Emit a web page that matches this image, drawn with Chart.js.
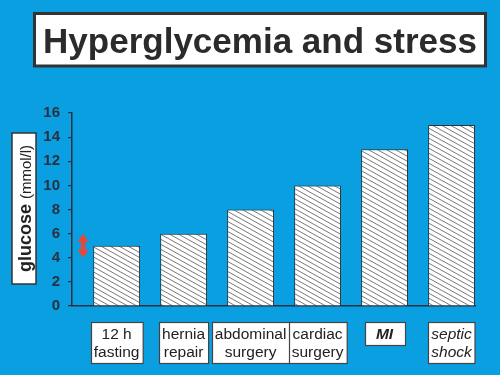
<!DOCTYPE html>
<html>
<head>
<meta charset="utf-8">
<script src="https://cdn.jsdelivr.net/npm/chart.js@4"></script>
<style>
  html, body { margin: 0; padding: 0; background: #0a9fe0; }
  #wrap { width: 500px; height: 375px; position: relative; }
</style>
</head>
<body>
<div id="wrap"><canvas id="chart"></canvas></div>
<script>
const title = 'Hyperglycemia and stress';
const categories = [['12 h', 'fasting'], ['hernia', 'repair'], ['abdominal', 'surgery'], ['cardiac', 'surgery'], ['MI'], ['septic', 'shock']];
const glucose = [5, 6, 8, 10, 13, 15];
const yTicks = [0, 2, 4, 6, 8, 10, 12, 14, 16];
const normalRange = [4, 6];
const axisTitle = ['glucose', '(mmol/l)'];

const FONT = '"Liberation Sans", Arial, Helvetica, sans-serif';
const DARK = '#2a3142';

// diagonal hatch fill for the bars
function makeHatch() {
    const w = 9, h = 5;
    const c = document.createElement('canvas');
    c.width = w; c.height = h;
    const g = c.getContext('2d');
    g.fillStyle = '#fff';
    g.fillRect(0, 0, w, h);
    g.strokeStyle = '#6a6a6a';
    g.lineWidth = 0.9;
    for (let k = -1; k <= 1; k++) {
        g.beginPath();
        g.moveTo(-2, -2 * h / w + k * h);
        g.lineTo(w + 2, h + 2 * h / w + k * h);
        g.stroke();
    }
    return g.createPattern(c, 'repeat');
}

const decorations = {
    id: 'decorations',
    afterDraw(chart, args, opts) {
        const ctx = chart.ctx;
        const x = chart.scales.x, y = chart.scales.y;
        ctx.save();

        // title box
        ctx.fillStyle = '#fff';
        ctx.fillRect(34, 13, 452, 54);
        ctx.lineWidth = 3;
        ctx.strokeStyle = '#333';
        ctx.strokeRect(34.5, 13.5, 451, 52.5);
        ctx.fillStyle = '#2b2b2b';
        ctx.font = 'bold 35px ' + FONT;
        ctx.textAlign = 'center';
        ctx.textBaseline = 'alphabetic';
        ctx.fillText(title, 260, 53);

        // y axis title, rotated in a white box
        ctx.fillStyle = '#fff';
        ctx.fillRect(12, 133, 24, 151);
        ctx.lineWidth = 1.5;
        ctx.strokeStyle = '#333';
        ctx.strokeRect(12, 133, 24, 151);
        ctx.save();
        ctx.translate(24, 208.5);
        ctx.rotate(-Math.PI / 2);
        ctx.textAlign = 'left';
        ctx.font = 'bold 18px ' + FONT;
        const w1 = ctx.measureText(axisTitle[0] + ' ').width;
        ctx.font = '15px ' + FONT;
        const w2 = ctx.measureText(axisTitle[1]).width;
        const start = -(w1 + w2) / 2;
        ctx.fillStyle = '#222';
        ctx.font = 'bold 18px ' + FONT;
        ctx.fillText(axisTitle[0], start, 6.5);
        ctx.font = '15px ' + FONT;
        ctx.fillText(axisTitle[1], start + w1, 6.5);
        ctx.restore();

        // normal range arrow
        const ax = x.getPixelForValue(opts.arrowAt);
        const top = y.getPixelForValue(normalRange[1]);
        const bot = y.getPixelForValue(normalRange[0]);
        const hl = 8, hw = 5.5, sw = 2.2;
        ctx.fillStyle = '#e8483a';
        ctx.beginPath();
        ctx.moveTo(ax, top);
        ctx.lineTo(ax + hw, top + hl);
        ctx.lineTo(ax + sw, top + hl);
        ctx.lineTo(ax + sw, bot - hl);
        ctx.lineTo(ax + hw, bot - hl);
        ctx.lineTo(ax, bot);
        ctx.lineTo(ax - hw, bot - hl);
        ctx.lineTo(ax - sw, bot - hl);
        ctx.lineTo(ax - sw, top + hl);
        ctx.lineTo(ax - hw, top + hl);
        ctx.closePath();
        ctx.fill();

        // category labels in boxes
        const lh = 18;
        categories.forEach((lines, i) => {
            const cx = x.getPixelForValue(i);
            const italic = opts.italic.includes(i);
            const bold = opts.bold.includes(i);
            ctx.font = (italic ? 'italic ' : '') + (bold ? 'bold ' : '') + '15.5px ' + FONT;
            const tw = Math.max(...lines.map(l => ctx.measureText(l).width));
            const bw = Math.max(tw + 6, 40);
            const bh = lines.length * lh + 5;
            const bx = Math.round(cx - bw / 2) + 0.5;
            const by = y.bottom + 16.5;
            ctx.fillStyle = '#fff';
            ctx.fillRect(bx, by, bw, bh);
            ctx.lineWidth = 1.2;
            ctx.strokeStyle = '#444';
            ctx.strokeRect(bx, by, bw, bh);
            ctx.fillStyle = '#222';
            ctx.textAlign = 'center';
            lines.forEach((l, j) => ctx.fillText(l, cx, by + 16.5 + j * lh));
        });

        ctx.restore();
    }
};

new Chart(document.getElementById('chart'), {
    type: 'bar',
    data: {
        datasets: [{
            data: glucose.map((v, i) => ({ x: i, y: v })),
            backgroundColor: makeHatch(),
            borderColor: '#333',
            borderWidth: 1,
            barPercentage: 0.7,
            categoryPercentage: 1
        }]
    },
    options: {
        responsive: true,
        maintainAspectRatio: false,
        animation: false,
        layout: { padding: { top: 113, right: 25, bottom: 69, left: 0 } },
        scales: {
            x: {
                type: 'linear',
                offset: false,
                min: -0.666,
                max: categories.length - 1 + 0.35,
                afterBuildTicks: s => { s.ticks = categories.map((c, i) => ({ value: i })); },
                afterFit: s => { s.height = 0; },
                ticks: { display: false },
                grid: { display: false },
                border: { display: true, color: DARK, width: 1.5 }
            },
            y: {
                min: yTicks[0],
                max: yTicks[yTicks.length - 1],
                afterBuildTicks: s => { s.ticks = yTicks.map(v => ({ value: v })); },
                afterFit: s => { s.width = 72; },
                ticks: {
                    color: DARK,
                    padding: 8,
                    font: { family: FONT, size: 15, weight: 'bold' }
                },
                grid: { drawOnChartArea: false, tickLength: 4, color: DARK, lineWidth: 1.2 },
                border: { display: true, color: DARK, width: 1.5 }
            }
        },
        plugins: {
            legend: { display: false },
            tooltip: { enabled: false },
            decorations: { arrowAt: -0.5, italic: [4, 5], bold: [4] }
        }
    },
    plugins: [decorations]
});
</script>
</body>
</html>
